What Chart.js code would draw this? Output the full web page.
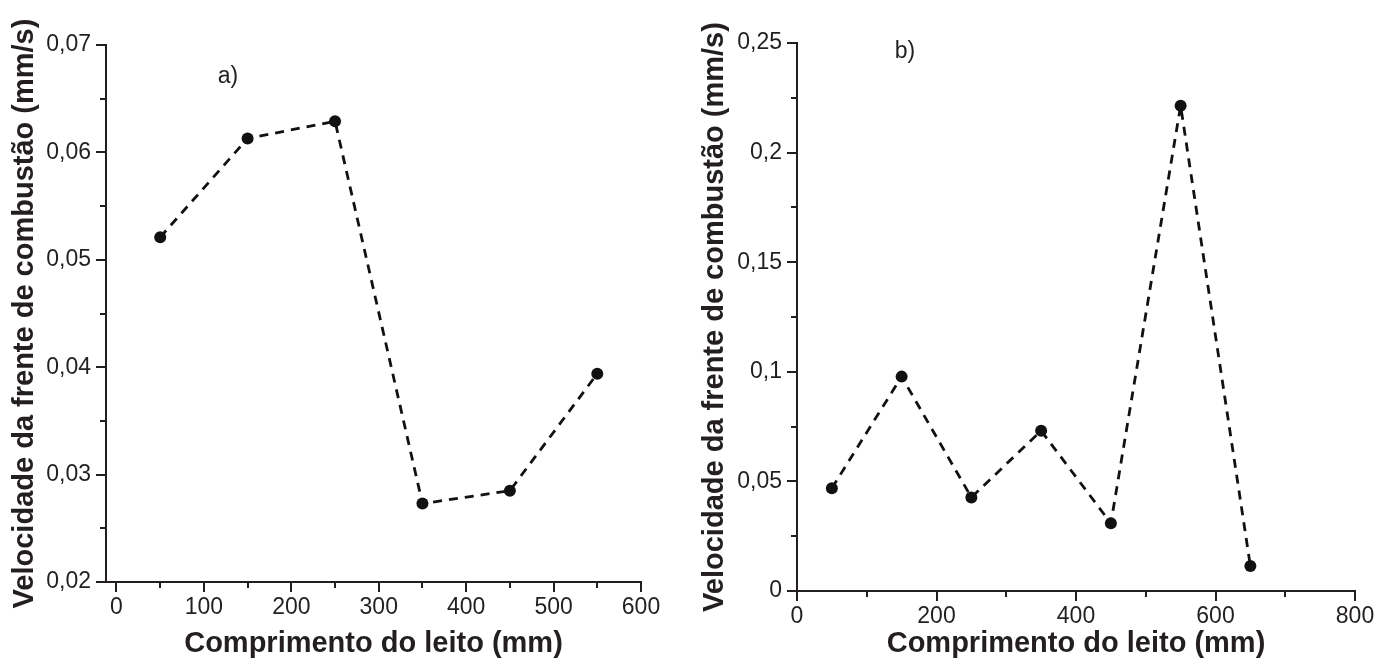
<!DOCTYPE html>
<html>
<head>
<meta charset="utf-8">
<script src="https://cdn.jsdelivr.net/npm/chart.js@4/dist/chart.umd.min.js"></script>
<style>
  html, body { margin: 0; padding: 0; background: #fff; }
  #wrap { position: relative; width: 1379px; height: 661px; }
  .box { position: absolute; top: 0; height: 661px; }
</style>
</head>
<body>
<div id="wrap">
  <div class="box" style="left:0;width:690px"><canvas id="chartA"></canvas></div>
  <div class="box" style="left:690px;width:689px"><canvas id="chartB"></canvas></div>
</div>
<script>
// panel a)
const positionsA = [50, 150, 250, 350, 450, 550]
const velocityA = [0.0521, 0.0613, 0.0629, 0.0273, 0.0285, 0.0394]
const minorXA = [50, 150, 250, 350, 450, 550]
const minorYA = [0.025, 0.035, 0.045, 0.055, 0.065]

// panel b)
const positionsB = [50, 150, 250, 350, 450, 550, 650]
const velocityB = [0.0469, 0.0978, 0.0427, 0.0731, 0.0309, 0.2214, 0.0114]
const minorXB = [100, 300, 500, 700]
const minorYB = [0.025, 0.075, 0.125, 0.175, 0.225]

const xTitle = 'Comprimento do leito (mm)'
const yTitle = 'Velocidade da frente de combustão (mm/s)'

const ink = '#231f20'
const fontFamily = '"Liberation Sans", Arial, Helvetica, sans-serif'

// comma decimal like the original
const fmt = v => (Math.round(v * 1000) / 1000).toString().replace('.', ',')

// short outward ticks between the labelled ones
const minorTicks = {
  id: 'minorTicks',
  afterDraw(chart, args, opts) {
    const ctx = chart.ctx
    const { x, y } = chart.scales
    ctx.save()
    ctx.strokeStyle = ink
    ctx.lineWidth = 2
    ctx.beginPath()
    opts.x.forEach(v => {
      const px = Math.round(x.getPixelForValue(v))
      ctx.moveTo(px, x.top)
      ctx.lineTo(px, x.top + 6)
    })
    opts.y.forEach(v => {
      const py = Math.round(y.getPixelForValue(v))
      ctx.moveTo(y.right, py)
      ctx.lineTo(y.right - 6, py)
    })
    ctx.stroke()
    ctx.restore()
  }
}

const panelLabel = {
  id: 'panelLabel',
  afterDraw(chart, args, opts) {
    const ctx = chart.ctx
    ctx.save()
    ctx.fillStyle = ink
    ctx.font = '23px ' + fontFamily
    ctx.textAlign = 'center'
    ctx.textBaseline = 'middle'
    ctx.fillText(opts.text, opts.x, opts.y)
    ctx.restore()
  }
}

function makeChart(id, xs, ys, cfg) {
  return new Chart(document.getElementById(id), {
    type: 'line',
    data: {
      datasets: [{
        data: xs.map((x, i) => ({ x: x, y: ys[i] })),
        borderColor: '#111',
        borderWidth: 2.8,
        borderDash: [9, 7],
        pointRadius: 6,
        pointBackgroundColor: '#111',
        pointBorderWidth: 0,
        tension: 0,
        fill: false
      }]
    },
    options: {
      responsive: true,
      maintainAspectRatio: false,
      animation: false,
      layout: { padding: cfg.padding },
      plugins: {
        legend: { display: false },
        tooltip: { enabled: false },
        minorTicks: { x: cfg.minorX, y: cfg.minorY },
        panelLabel: cfg.label
      },
      scales: {
        x: {
          type: 'linear',
          min: cfg.xMin,
          max: cfg.xMax,
          afterFit: s => { s.height = cfg.xHeight },
          grid: { display: true, drawOnChartArea: false, drawTicks: true, tickLength: 10, color: ink, lineWidth: 2 },
          border: { display: true, color: ink, width: 2 },
          ticks: {
            stepSize: cfg.xStep,
            includeBounds: false,
            maxRotation: 0,
            padding: 2,
            color: ink,
            font: { family: fontFamily, size: 23 },
            callback: v => fmt(v)
          },
          title: {
            display: true,
            text: xTitle,
            color: ink,
            padding: { top: 1, bottom: 0 },
            font: { family: fontFamily, size: 29, weight: 'bold' }
          }
        },
        y: {
          min: cfg.yMin,
          max: cfg.yMax,
          afterFit: s => { s.width = cfg.yWidth },
          grid: { display: true, drawOnChartArea: false, drawTicks: true, tickLength: 10, color: ink, lineWidth: 2 },
          border: { display: true, color: ink, width: 2 },
          ticks: {
            stepSize: cfg.yStep,
            padding: 5,
            color: ink,
            font: { family: fontFamily, size: 23 },
            callback: v => fmt(v)
          },
          title: {
            display: true,
            text: yTitle,
            color: ink,
            padding: { top: 8, bottom: 0 },
            font: { family: fontFamily, size: 29, weight: 'bold' }
          }
        }
      }
    },
    plugins: [minorTicks, panelLabel]
  })
}

makeChart('chartA', positionsA, velocityA, {
  xMin: -12, xMax: 600, xStep: 100,
  yMin: 0.02, yMax: 0.07, yStep: 0.01,
  minorX: minorXA, minorY: minorYA,
  padding: { top: 45, right: 49, bottom: 0, left: 0 },
  yWidth: 106, xHeight: 79,
  label: { text: 'a)', x: 228, y: 77 }
})

makeChart('chartB', positionsB, velocityB, {
  xMin: 0, xMax: 800, xStep: 200,
  yMin: 0, yMax: 0.25, yStep: 0.05,
  minorX: minorXB, minorY: minorYB,
  padding: { top: 43, right: 24, bottom: 0, left: 0 },
  yWidth: 107, xHeight: 70,
  label: { text: 'b)', x: 215, y: 52 }
})
</script>
</body>
</html>
